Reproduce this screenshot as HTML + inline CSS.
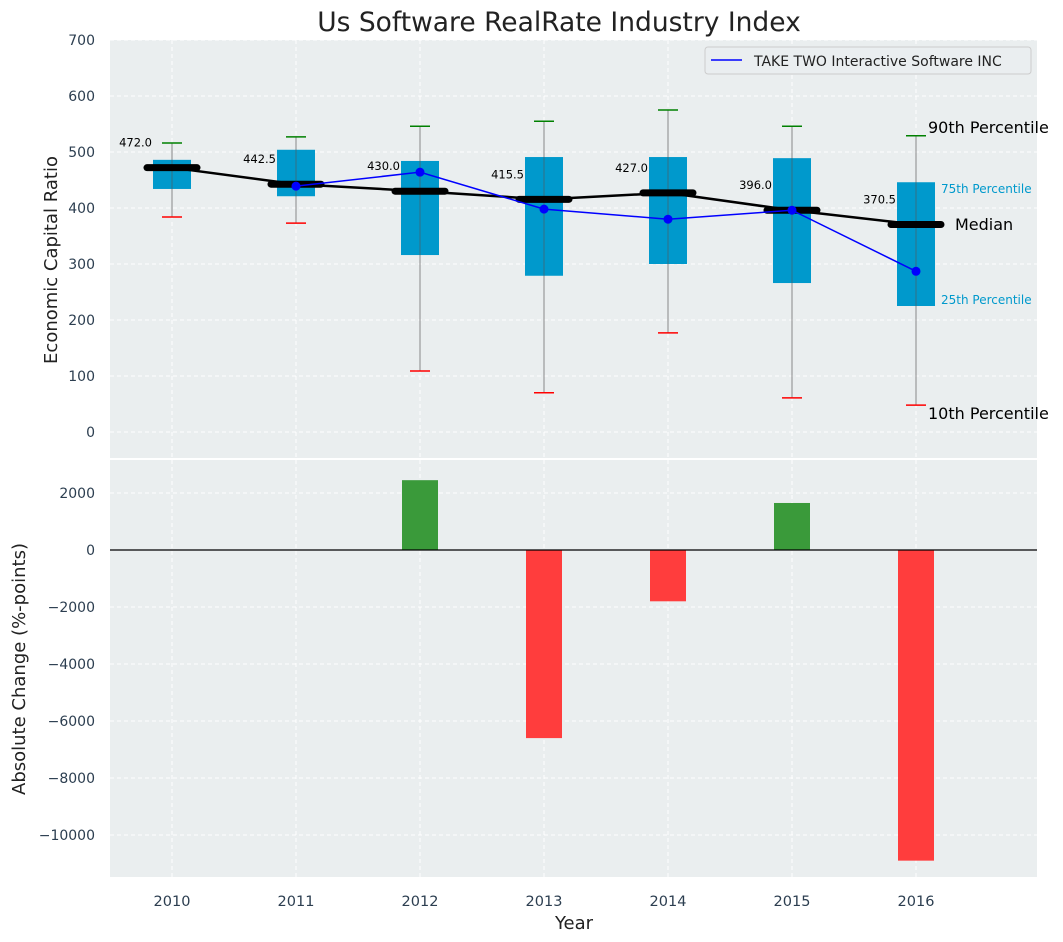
<!DOCTYPE html>
<html><head><meta charset="utf-8">
<style>
body{margin:0;background:#fff;}
svg{display:block;font-family:"DejaVu Sans","Liberation Sans",sans-serif;}
</style></head>
<body>
<svg id="chart" width="1063" height="942" xmlns="http://www.w3.org/2000/svg"></svg>
<script>
const years = [2010, 2011, 2012, 2013, 2014, 2015, 2016];
const p10 = [384, 373, 109, 70, 177, 61, 48];
const p25 = [434, 421, 316, 279, 300, 266, 225];
const medians = [472.0, 442.5, 430.0, 415.5, 427.0, 396.0, 370.5];
const p75 = [486, 504, 484, 491, 491, 489, 446];
const p90 = [516, 527, 546, 555, 575, 546, 529];
const companyYears = [2011, 2012, 2013, 2014, 2015, 2016];
const companyValues = [439, 464, 398, 380, 396, 287];
const changes = [0, 0, 2450, -6600, -1800, 1650, -10900];
const topTicks = [0, 100, 200, 300, 400, 500, 600, 700];
const botTicks = [-10000, -8000, -6000, -4000, -2000, 0, 2000];

const NS = "http://www.w3.org/2000/svg";
const svg = document.getElementById('chart');
function el(tag, attrs, parent) {
  const e = document.createElementNS(NS, tag);
  for (const k in attrs) e.setAttribute(k, attrs[k]);
  (parent || svg).appendChild(e);
  return e;
}
const X0 = 110, X1 = 1037;
const x = v => 172 + (v - 2010) * 124;
const yT = v => 432 - v * 0.56;
const yB = v => 550 - v * 0.0285;

let bg = el('rect', {x: X0, y: 40, width: X1 - X0, height: 418, fill: '#eaeeef'});


bg = el('rect', {x: X0, y: 460, width: X1 - X0, height: 417, fill: '#eaeeef'});



topTicks.forEach(t => {
  el('line', {x1: X0, x2: X1, y1: yT(t), y2: yT(t), stroke: '#fff', 'stroke-dasharray': '4,3'});
  const tx = el('text', {x: 95, y: yT(t) + 5, 'text-anchor': 'end', 'font-size': 14, fill: '#2c3e50'});
  tx.textContent = t;
  
  
});
botTicks.forEach(t => {
  el('line', {x1: X0, x2: X1, y1: yB(t), y2: yB(t), stroke: '#fff', 'stroke-dasharray': '4,3'});
  const tx = el('text', {x: 95, y: yB(t) + 5, 'text-anchor': 'end', 'font-size': 14, fill: '#2c3e50'});
  tx.textContent = t < 0 ? '\u2212' + Math.abs(t) : t;
  
  
});
years.forEach(yr => {
  el('line', {x1: x(yr), x2: x(yr), y1: 40, y2: 458, stroke: '#fff', 'stroke-dasharray': '4,3'});
  el('line', {x1: x(yr), x2: x(yr), y1: 460, y2: 877, stroke: '#fff', 'stroke-dasharray': '4,3'});
  const tx = el('text', {x: x(yr), y: 906, 'text-anchor': 'middle', 'font-size': 14.5, fill: '#2c3e50'});
  tx.textContent = yr;
  
  
});

years.forEach((yr, i) => {
  const cx = x(yr);
  const w = el('line', {x1: cx, x2: cx, y1: yT(p10[i]), y2: yT(p90[i]), stroke: '#888', 'stroke-width': 1});
  
  
  const b = el('rect', {x: cx - 19, y: yT(p75[i]), width: 38, height: yT(p25[i]) - yT(p75[i]), fill: '#0099cc'});
  
  
  el('line', {x1: cx, x2: cx, y1: yT(p75[i]), y2: yT(p25[i]), stroke: '#555', 'stroke-width': 1, opacity: 0.6});
  const ct = el('line', {x1: cx - 10, x2: cx + 10, y1: yT(p90[i]), y2: yT(p90[i]), stroke: 'green', 'stroke-width': 1.5});
  
  
  const cb = el('line', {x1: cx - 10, x2: cx + 10, y1: yT(p10[i]), y2: yT(p10[i]), stroke: 'red', 'stroke-width': 1.5});
  
  
});
const ml = el('polyline', {points: years.map((yr, i) => x(yr) + ',' + yT(medians[i])).join(' '), fill: 'none', stroke: '#000', 'stroke-width': 2.5});


years.forEach((yr, i) => {
  const m = el('line', {x1: x(yr) - 25, x2: x(yr) + 25, y1: yT(medians[i]), y2: yT(medians[i]), stroke: '#000', 'stroke-width': 7, 'stroke-linecap': 'round'});
  
  
  const t = el('text', {x: x(yr) - 20, y: yT(medians[i]) - 21, 'text-anchor': 'end', 'font-size': 11.5, fill: '#000'});
  t.textContent = medians[i].toFixed(1);
  
  
});
const cl = el('polyline', {points: companyYears.map((yr, i) => x(yr) + ',' + yT(companyValues[i])).join(' '), fill: 'none', stroke: '#0000ff', 'stroke-width': 1.5});


companyYears.forEach((yr, i) => {
  const c = el('circle', {cx: x(yr), cy: yT(companyValues[i]), r: 4.5, fill: '#0000ff'});
  
  
});

const ann = [[928, 133, '90th Percentile', 16, '#000'], [941, 193, '75th Percentile', 12, '#0099cc'], [955, 230, 'Median', 16, '#000'], [941, 304, '25th Percentile', 12, '#0099cc'], [928, 419, '10th Percentile', 16, '#000']];
ann.forEach(a => {
  const t = el('text', {x: a[0], y: a[1], 'font-size': a[3], fill: a[4]});
  t.textContent = a[2];
  
  
});

const lg = el('g', {});


el('rect', {x: 705, y: 47, width: 326, height: 27, rx: 3, fill: '#eaeef0', stroke: '#ccc'}, lg);
el('line', {x1: 711, x2: 742, y1: 60, y2: 60, stroke: '#0000ff', 'stroke-width': 1.5}, lg);
const lt = el('text', {x: 754, y: 66, 'font-size': 14, fill: '#222'}, lg);
lt.textContent = 'TAKE TWO Interactive Software INC';

years.forEach((yr, i) => {
  const v = changes[i];
  if (v === 0) return;
  const b = el('rect', {x: x(yr) - 18, y: Math.min(yB(v), yB(0)), width: 36, height: Math.abs(yB(v) - yB(0)), fill: v > 0 ? '#3a9a3a' : '#ff3d3d'});
  
  
});
const zl = el('line', {x1: X0, x2: X1, y1: yB(0), y2: yB(0), stroke: '#000', 'stroke-width': 1.2});



let t = el('text', {x: 559, y: 31, 'text-anchor': 'middle', 'font-size': 26.5, fill: '#222'});
t.textContent = 'Us Software RealRate Industry Index';


t = el('text', {x: 57, y: 260, 'text-anchor': 'middle', 'font-size': 18, fill: '#222', transform: 'rotate(-90 57 260)'});
t.textContent = 'Economic Capital Ratio';


t = el('text', {x: 25, y: 669, 'text-anchor': 'middle', 'font-size': 18, fill: '#222', transform: 'rotate(-90 25 669)'});
t.textContent = 'Absolute Change (%-points)';


t = el('text', {x: 574, y: 929, 'text-anchor': 'middle', 'font-size': 18, fill: '#222'});
t.textContent = 'Year';


</script>
</body></html>
